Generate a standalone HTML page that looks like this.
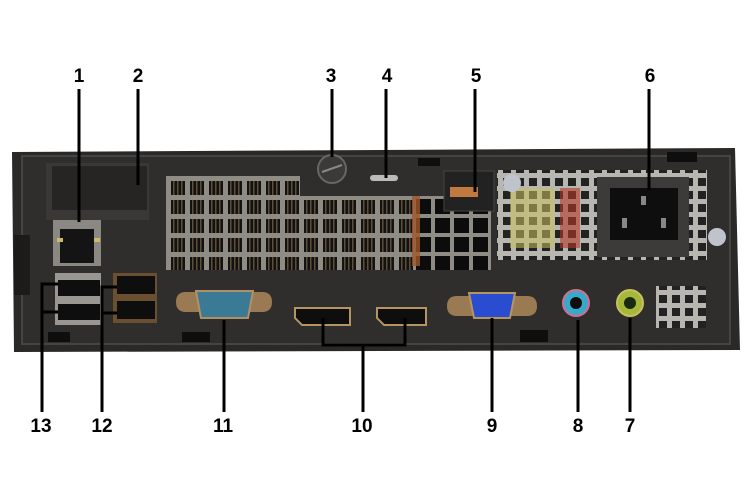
<!DOCTYPE html>
<html><head><meta charset="utf-8"><style>
html,body{margin:0;padding:0;background:#fff;width:750px;height:500px;overflow:hidden}
svg{display:block}
text{font-family:"Liberation Sans",sans-serif;font-weight:bold;font-size:19px;fill:#000}
</style></head><body>
<svg width="750" height="500" viewBox="0 0 750 500">
<defs>
<pattern id="vent" x="168" y="178" width="19" height="19" patternUnits="userSpaceOnUse">
<rect width="19" height="19" fill="#8f8b85"/><rect x="3" y="3" width="14" height="14" fill="#141210"/>
<rect x="5" y="3" width="1.5" height="14" fill="#5e4e3c"/><rect x="9" y="3" width="1.5" height="14" fill="#5e4e3c"/><rect x="13" y="3" width="1.5" height="14" fill="#5e4e3c"/>
</pattern>
<pattern id="big" x="413" y="196" width="19" height="19" patternUnits="userSpaceOnUse">
<rect width="19" height="19" fill="#8f8b85"/><rect x="3" y="3" width="15" height="15" fill="#0c0c0c"/>
</pattern>
<pattern id="psu" x="500" y="175" width="13" height="13" patternUnits="userSpaceOnUse">
<rect width="13" height="13" fill="#b8b6b0"/><rect x="3" y="3" width="8" height="8" fill="#222"/>
</pattern>
</defs>
<path d="M12 152 L735 148 L740 350 L14 352 Z" fill="#2b2927"/>
<rect x="22" y="156" width="708" height="188" fill="#302e2c" stroke="#444" stroke-width="2"/>
<rect x="14" y="235" width="16" height="60" fill="#1c1b1a"/>
<rect x="46" y="163" width="103" height="57" fill="#3a3836"/>
<rect x="52" y="166" width="95" height="44" fill="#262523"/>
<rect x="166" y="176" width="248" height="94" fill="url(#vent)"/>
<rect x="300" y="176" width="120" height="20" fill="#302e2c"/>
<rect x="413" y="196" width="78" height="74" fill="url(#big)"/>
<rect x="412" y="196" width="8" height="70" fill="#a0582a" opacity="0.8"/>
<circle cx="332" cy="169" r="14" fill="#3b3a38" stroke="#666" stroke-width="2"/>
<line x1="322" y1="172" x2="342" y2="165" stroke="#888" stroke-width="2"/>
<rect x="370" y="175" width="28" height="6" rx="3" fill="#bbb"/>
<rect x="444" y="171" width="50" height="40" fill="#222" stroke="#444"/>
<rect x="450" y="187" width="28" height="10" fill="#c07a40"/>
<rect x="497" y="170" width="210" height="90" fill="url(#psu)"/>
<rect x="560" y="188" width="20" height="60" fill="#b23a2a" opacity="0.6"/>
<rect x="510" y="188" width="45" height="60" fill="#c9c060" opacity="0.55"/>
<rect x="597" y="177" width="92" height="80" fill="#3c3b3a"/>
<rect x="610" y="188" width="68" height="52" fill="#0e0e0e"/>
<rect x="641" y="196" width="5" height="9" fill="#888"/><rect x="622" y="218" width="5" height="10" fill="#888"/><rect x="661" y="218" width="5" height="10" fill="#888"/>
<circle cx="512" cy="183" r="9" fill="#bfc4cc"/><circle cx="717" cy="237" r="9" fill="#bfc4cc"/>
<rect x="53" y="220" width="48" height="46" fill="#8b8884"/>
<rect x="60" y="229" width="34" height="34" fill="#141414"/>
<rect x="57" y="238" width="6" height="4" fill="#c9b96a"/><rect x="94" y="238" width="6" height="4" fill="#c9b96a"/>
<rect x="55" y="273" width="46" height="52" fill="#9a9692"/>
<rect x="58" y="280" width="42" height="16" fill="#0e0e0e"/><rect x="58" y="304" width="42" height="16" fill="#0e0e0e"/>
<rect x="113" y="273" width="44" height="50" fill="#6a5030"/>
<rect x="117" y="276" width="38" height="18" fill="#0e0e0e"/><rect x="117" y="301" width="38" height="18" fill="#0e0e0e"/>
<path d="M176 302 Q176 292 186 292 L262 292 Q272 292 272 302 Q272 312 262 312 L186 312 Q176 312 176 302Z" fill="#9a7a52"/>
<path d="M196 291 L253 291 L248 318 L201 318 Z" fill="#3a7a94" stroke="#b09066" stroke-width="2"/>
<path d="M295 308 L350 308 L350 325 L302 325 L295 318 Z" fill="#0e0e0e" stroke="#b5955f" stroke-width="2"/>
<path d="M377 308 L426 308 L426 325 L384 325 L377 318 Z" fill="#0e0e0e" stroke="#b5955f" stroke-width="2"/>
<path d="M447 306 Q447 296 457 296 L527 296 Q537 296 537 306 Q537 316 527 316 L457 316 Q447 316 447 306Z" fill="#9a7a52"/>
<path d="M469 293 L515 293 L510 318 L474 318 Z" fill="#2a4cd0" stroke="#b5955f" stroke-width="2"/>
<circle cx="576" cy="303" r="13" fill="#3aa8c8" stroke="#d07090" stroke-width="2"/><circle cx="576" cy="303" r="6" fill="#0e0e0e"/>
<circle cx="630" cy="303" r="13" fill="#a5b83a" stroke="#c8c060" stroke-width="2"/><circle cx="630" cy="303" r="6" fill="#1a2a0e"/>
<rect x="656" y="286" width="50" height="42" fill="url(#psu)"/>
<rect x="48" y="332" width="22" height="10" fill="#0e0e0e"/><rect x="182" y="332" width="28" height="10" fill="#0e0e0e"/><rect x="520" y="330" width="28" height="12" fill="#0e0e0e"/>
<rect x="418" y="158" width="22" height="8" fill="#0e0e0e"/><rect x="667" y="152" width="30" height="10" fill="#0e0e0e"/>
<g stroke="#000" stroke-width="3" fill="none">
<line x1="79" y1="89" x2="79" y2="222"/>
<line x1="138" y1="89" x2="138" y2="185"/>
<line x1="332" y1="89" x2="332" y2="157"/>
<line x1="386" y1="89" x2="386" y2="178"/>
<line x1="475" y1="89" x2="475" y2="192"/>
<line x1="649" y1="89" x2="649" y2="190"/>
<polyline points="58,284 42,284 42,412"/><line x1="42" y1="312" x2="58" y2="312"/>
<polyline points="117,287 102,287 102,412"/><line x1="102" y1="313" x2="117" y2="313"/>
<line x1="224" y1="320" x2="224" y2="412"/>
<polyline points="323,318 323,345 405,345 405,318"/>
<line x1="363" y1="345" x2="363" y2="412"/>
<line x1="492" y1="318" x2="492" y2="412"/>
<line x1="578" y1="320" x2="578" y2="412"/>
<line x1="630" y1="318" x2="630" y2="412"/>
</g>
<g text-anchor="middle">
<text x="79" y="82">1</text><text x="138" y="82">2</text><text x="331" y="82">3</text><text x="387" y="82">4</text><text x="476" y="82">5</text><text x="650" y="82">6</text>
<text x="41" y="432">13</text><text x="102" y="432">12</text><text x="223" y="432">11</text><text x="362" y="432">10</text><text x="492" y="432">9</text><text x="578" y="432">8</text><text x="630" y="432">7</text>
</g>
</svg>
</body></html>
